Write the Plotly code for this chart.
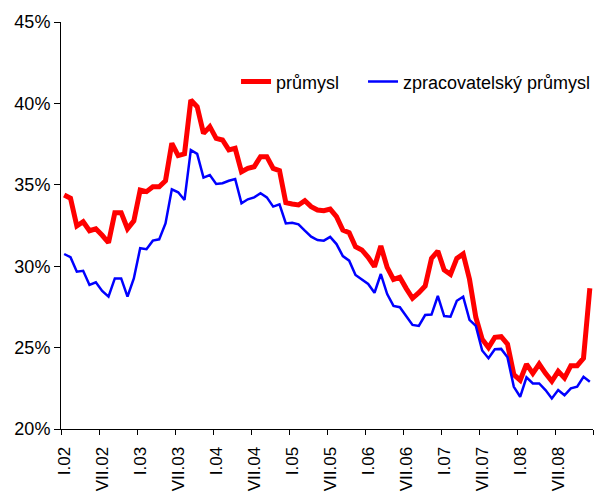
import plotly.graph_objects as go

months = ["I", "II", "III", "IV", "V", "VI", "VII", "VIII", "IX", "X", "XI", "XII"]
years = ["02", "03", "04", "05", "06", "07", "08"]
categories = [f"{m}.{y}" for y in years for m in months]

prumysl = [
    34.37, 34.17, 32.47, 32.73, 32.18, 32.3, 31.9, 31.44, 33.29, 33.29, 32.3, 32.78,
    34.68, 34.58, 34.88, 34.88, 35.25, 37.55, 36.79, 36.9, 40.21, 39.8, 38.16, 38.57,
    37.85, 37.75, 37.14, 37.24, 35.8, 36.01, 36.11, 36.73, 36.73, 36.01, 35.87, 33.9,
    33.82, 33.76, 34.02, 33.66, 33.45, 33.41, 33.51, 33.04, 32.22, 32.06, 31.2, 31.0,
    30.55, 29.97, 31.24, 29.93, 29.19, 29.32, 28.64, 28.03, 28.37, 28.78, 30.48, 30.93,
    29.77, 29.5, 30.48, 30.75, 29.2, 26.86, 25.52, 25.0, 25.63, 25.67, 25.22, 23.34,
    23.0, 23.99, 23.42, 23.99, 23.42, 22.93, 23.54, 23.13, 23.89, 23.89, 24.35, 28.64,
]

zpracovatelsky = [
    30.75, 30.55, 29.66, 29.72, 28.85, 29.01, 28.48, 28.13, 29.25, 29.25, 28.13, 29.25,
    31.1, 31.04, 31.57, 31.65, 32.63, 34.72, 34.54, 34.07, 37.14, 36.9, 35.44, 35.6,
    35.05, 35.1, 35.25, 35.36, 33.86, 34.11, 34.23, 34.48, 34.23, 33.66, 33.8, 32.63,
    32.67, 32.57, 32.18, 31.81, 31.61, 31.57, 31.8, 31.36, 30.62, 30.34, 29.46, 29.19,
    28.91, 28.37, 29.52, 28.29, 27.56, 27.48, 26.9, 26.39, 26.33, 27.0, 27.03, 28.17,
    26.94, 26.9, 27.88, 28.13, 26.7, 26.33, 24.82, 24.35, 24.9, 24.92, 24.4, 22.59,
    21.98, 23.17, 22.8, 22.8, 22.39, 21.88, 22.39, 22.07, 22.5, 22.6, 23.21, 22.9,
]

series_names = ["průmysl", "zpracovatelský průmysl"]
y_ticks = [20, 25, 30, 35, 40, 45]

idx = list(range(len(categories)))
label_idx = idx[::6]
label_text = [categories[i] for i in label_idx]
boundary_ticks = [i - 0.5 for i in idx[::6]] + [len(categories) - 0.5]

font_family = "Liberation Sans, Arial, sans-serif"

fig = go.Figure()
fig.add_trace(go.Scatter(
    x=idx, y=prumysl, mode="lines", name=series_names[0],
    line=dict(color="#FF0000", width=5), legend="legend",
))
fig.add_trace(go.Scatter(
    x=idx, y=zpracovatelsky, mode="lines", name=series_names[1],
    line=dict(color="#0000FF", width=2.5), legend="legend2",
))

xrange = [-0.5, len(categories) - 0.5]
legend_common = dict(
    orientation="h", y=0.853, xanchor="left", yanchor="middle",
    bgcolor="rgba(0,0,0,0)", font=dict(size=18), itemwidth=30,
)

fig.update_layout(
    width=600, height=493,
    margin=dict(l=61, r=7, t=22, b=64, autoexpand=False),
    paper_bgcolor="white", plot_bgcolor="white",
    font=dict(family=font_family, size=18, color="#000000"),
    showlegend=True,
    legend=dict(x=0.329, **legend_common),
    legend2=dict(x=0.5677, **legend_common),
    xaxis=dict(
        range=xrange, tickmode="array", tickvals=label_idx, ticktext=label_text,
        tickangle=-90, ticks="", showgrid=False, zeroline=False,
        showline=True, linecolor="#000000", linewidth=1,
        ticklabelstandoff=10, automargin=False, tickfont=dict(size=17),
    ),
    xaxis2=dict(
        range=xrange, overlaying="x", anchor="y", side="bottom",
        tickmode="array", tickvals=boundary_ticks, ticks="outside", ticklen=5,
        tickcolor="#000000", showticklabels=False, showgrid=False, zeroline=False,
        showline=False, automargin=False,
    ),
    yaxis=dict(
        range=[20, 45], tickmode="array", tickvals=y_ticks,
        ticktext=[f"{v}%" for v in y_ticks],
        ticks="outside", ticklen=6, tickcolor="#000000",
        showgrid=False, zeroline=False, automargin=False,
        showline=True, linecolor="#000000", linewidth=1,
    ),
)
# invisible trace that activates the tick-mark axis (category boundaries)
fig.add_trace(go.Scatter(x=[idx[0]], y=[prumysl[0]], xaxis="x2", mode="lines",
                         showlegend=False, hoverinfo="skip", line=dict(width=0)))

fig.write_html(
    "out.html",
    config={"displayModeBar": False},
    post_script="document.body.style.margin='0';document.body.style.overflow='hidden';",
)
